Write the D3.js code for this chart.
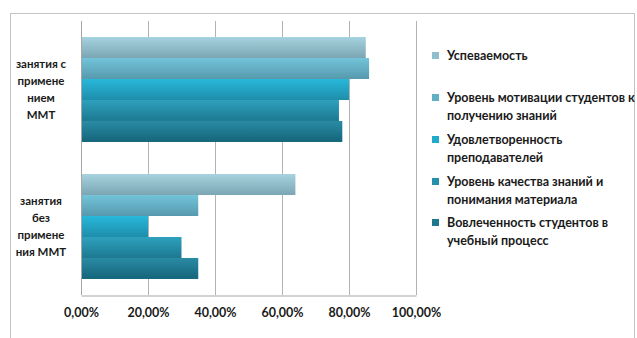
<!DOCTYPE html>
<html>
<head>
<meta charset="utf-8">
<script src="https://cdn.jsdelivr.net/npm/d3@7"></script>
<style>
  body { margin: 0; background: #fff; }
  svg { display: block; }
  text { font-family: Lato, "Open Sans", sans-serif; font-weight: bold; fill: #1a1a1a; }
</style>
</head>
<body>
<svg id="chart"></svg>
<script>
// data
const categories = ["занятия с применением ММТ", "занятия без применения ММТ"];
const categoryLines = [
    ["занятия с", "примене", "нием", "ММТ"],
    ["занятия", "без", "примене", "ния ММТ"]
];
const seriesNames = [
    "Успеваемость",
    "Уровень мотивации студентов к получению знаний",
    "Удовлетворенность преподавателей",
    "Уровень качества знаний и понимания материала",
    "Вовлеченность студентов в учебный процесс"
];
const legendLines = [
    ["Успеваемость"],
    ["Уровень мотивации студентов к", "получению знаний"],
    ["Удовлетворенность", "преподавателей"],
    ["Уровень качества знаний и", "понимания материала"],
    ["Вовлеченность студентов в", "учебный процесс"]
];
const withMMT = [0.85, 0.86, 0.80, 0.77, 0.78];
const withoutMMT = [0.64, 0.35, 0.20, 0.30, 0.35];
const xTicks = [0, 0.2, 0.4, 0.6, 0.8, 1.0];

const seriesColors = [
    { top: "#a6d3df", bottom: "#7ba5b2", key: "#8fbfcc" },
    { top: "#72c4da", bottom: "#5799ad", key: "#62b0c6" },
    { top: "#27b8da", bottom: "#1f8dab", key: "#22a9cc" },
    { top: "#2ea1bd", bottom: "#1d7891", key: "#2690ac" },
    { top: "#2a8ba4", bottom: "#14657a", key: "#1e778e" }
];

const W = 637, H = 338;
const svg = d3.select("#chart").attr("width", W).attr("height", H);

// outer frame
svg.append("rect")
    .attr("x", 10.5).attr("y", 13.5)
    .attr("width", 624).attr("height", 340)
    .attr("fill", "none").attr("stroke", "#c4c4c4");

const plot = { left: 81, right: 416, top: 21, bottom: 295 };

const x = d3.scaleLinear().domain([0, 1]).range([plot.left, plot.right]);
const y = d3.scaleBand().domain(categories)
    .range([plot.top, plot.bottom])
    .paddingInner(0.234).paddingOuter(0.117);
const ySeries = d3.scaleBand().domain(d3.range(seriesNames.length))
    .range([0, y.bandwidth()]);

// gradients
const defs = svg.append("defs");
seriesColors.forEach((c, i) => {
    const g = defs.append("linearGradient")
        .attr("id", "grad" + i)
        .attr("x1", 0).attr("y1", 0).attr("x2", 0).attr("y2", 1);
    g.append("stop").attr("offset", "0%").attr("stop-color", c.top);
    g.append("stop").attr("offset", "100%").attr("stop-color", c.bottom);
});

// gridlines
svg.append("g")
    .selectAll("line")
    .data(xTicks)
    .join("line")
    .attr("x1", d => Math.round(x(d)) + 0.5)
    .attr("x2", d => Math.round(x(d)) + 0.5)
    .attr("y1", plot.top)
    .attr("y2", plot.bottom)
    .attr("stroke", "#b3b3b3");

// bars
const rows = categories.map((c, ci) => ({
    category: c,
    values: ci === 0 ? withMMT : withoutMMT
}));

const groups = svg.append("g")
    .selectAll("g")
    .data(rows)
    .join("g")
    .attr("transform", d => `translate(0, ${y(d.category)})`);

groups.selectAll("rect")
    .data(d => d.values.map((v, i) => ({ i, v })))
    .join("rect")
    .attr("x", x(0))
    .attr("y", d => ySeries(d.i))
    .attr("width", d => x(d.v) - x(0))
    .attr("height", ySeries.bandwidth())
    .attr("fill", d => `url(#grad${d.i})`);

// x axis
const xAxis = svg.append("g")
    .attr("transform", `translate(0, ${plot.bottom + 0.5})`)
    .call(d3.axisBottom(x)
        .tickValues(xTicks)
        .tickSize(0)
        .tickPadding(13)
        .tickFormat(d => d3.format(".2f")(d * 100).replace(".", ",") + "%"));
xAxis.select(".domain").attr("stroke", "#a6a6a6");
xAxis.selectAll("text").attr("font-size", 12.5).attr("fill", "#1a1a1a")
    .attr("font-family", "Lato, sans-serif");

// y axis line
svg.append("line")
    .attr("x1", plot.left + 0.5).attr("x2", plot.left + 0.5)
    .attr("y1", plot.top).attr("y2", plot.bottom)
    .attr("stroke", "#a6a6a6");

// category labels
categories.forEach((c, ci) => {
    const lines = categoryLines[ci];
    const cy = y(c) + y.bandwidth() / 2;
    const lh = 17;
    svg.append("text")
        .attr("text-anchor", "middle")
        .attr("font-size", 11.5)
        .selectAll("tspan")
        .data(lines)
        .join("tspan")
        .attr("x", 41)
        .attr("y", (d, i) => cy + (i - (lines.length - 1) / 2) * lh + 4)
        .text(d => d);
});

// legend
const legendY = [56, 98, 140, 182, 223];
const legend = svg.append("g")
    .selectAll("g")
    .data(seriesNames)
    .join("g")
    .attr("transform", (d, i) => `translate(432, ${legendY[i]})`);

legend.append("rect")
    .attr("x", 0).attr("y", -4)
    .attr("width", 7).attr("height", 7)
    .attr("fill", (d, i) => seriesColors[i].key);

legend.append("text")
    .attr("font-size", 12.5)
    .selectAll("tspan")
    .data((d, i) => legendLines[i])
    .join("tspan")
    .attr("x", 15)
    .attr("y", (d, i) => i * 17.5 + 4)
    .text(d => d);
</script>
</body>
</html>
